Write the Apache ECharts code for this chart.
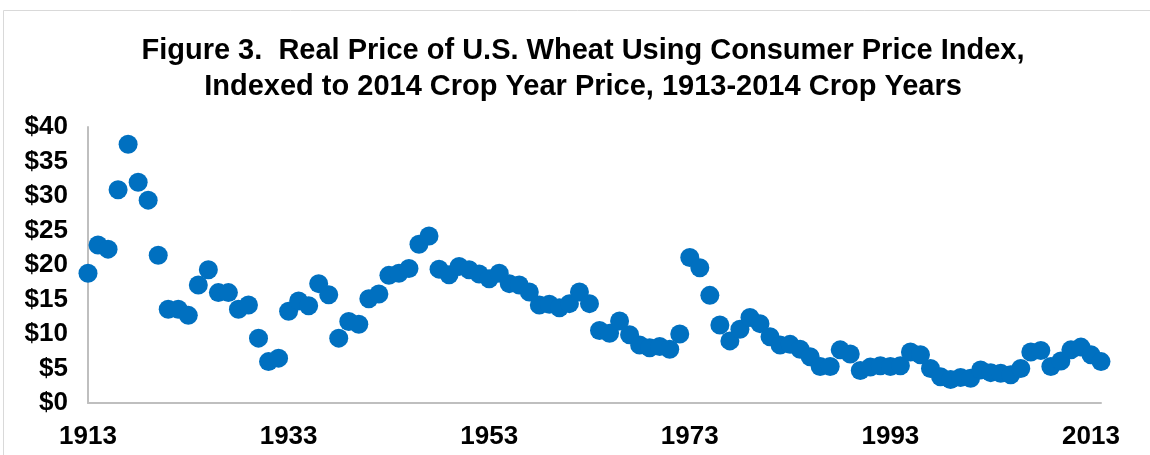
<!DOCTYPE html>
<html>
<head>
<meta charset="utf-8">
<title>Real Price of U.S. Wheat</title>
<script src="https://cdn.jsdelivr.net/npm/echarts@6/dist/echarts.min.js"></script>
<style>
	html, body { margin: 0; padding: 0; background: #fff; }
	#chart { width: 1150px; height: 455px; }
</style>
</head>
<body>
<div id="chart"></div>
<script>
	// crop years 1913 - 2014
	const years = [
		1913, 1914, 1915, 1916, 1917, 1918, 1919, 1920, 1921, 1922,
		1923, 1924, 1925, 1926, 1927, 1928, 1929, 1930, 1931, 1932,
		1933, 1934, 1935, 1936, 1937, 1938, 1939, 1940, 1941, 1942,
		1943, 1944, 1945, 1946, 1947, 1948, 1949, 1950, 1951, 1952,
		1953, 1954, 1955, 1956, 1957, 1958, 1959, 1960, 1961, 1962,
		1963, 1964, 1965, 1966, 1967, 1968, 1969, 1970, 1971, 1972,
		1973, 1974, 1975, 1976, 1977, 1978, 1979, 1980, 1981, 1982,
		1983, 1984, 1985, 1986, 1987, 1988, 1989, 1990, 1991, 1992,
		1993, 1994, 1995, 1996, 1997, 1998, 1999, 2000, 2001, 2002,
		2003, 2004, 2005, 2006, 2007, 2008, 2009, 2010, 2011, 2012,
		2013, 2014
	];

	// real price, $ per bushel (2014 dollars)
	const realPrice = [
		18.8, 22.9, 22.3, 30.9, 37.5, 32.0, 29.4, 21.4, 13.6, 13.6,
		12.7, 17.1, 19.3, 16.0, 16.0, 13.6, 14.2, 9.4, 6.0, 6.5,
		13.3, 14.8, 14.1, 17.3, 15.7, 9.4, 11.8, 11.4, 15.1, 15.8,
		18.5, 18.8, 19.5, 23.0, 24.2, 19.4, 18.6, 19.8, 19.3, 18.7,
		18.0, 18.8, 17.3, 17.1, 16.1, 14.2, 14.3, 13.8, 14.4, 16.1,
		14.4, 10.5, 10.1, 11.9, 9.9, 8.4, 8.0, 8.2, 7.8, 10.0,
		21.1, 19.6, 15.6, 11.3, 9.0, 10.7, 12.4, 11.5, 9.6, 8.4,
		8.5, 7.8, 6.7, 5.3, 5.3, 7.7, 7.1, 4.7, 5.2, 5.4,
		5.3, 5.4, 7.4, 7.0, 5.0, 3.8, 3.4, 3.7, 3.6, 4.8,
		4.4, 4.3, 4.1, 5.0, 7.4, 7.6, 5.3, 6.1, 7.7, 8.1,
		7.0, 6.0
	];

	const titleLines = [
		'Figure 3.  Real Price of U.S. Wheat Using Consumer Price Index,',
		'Indexed to 2014 Crop Year Price, 1913-2014 Crop Years'
	];

	const dotColor = '#0070C0';
	const axisColor = '#BFBFBF';
	const fontFamily = 'Liberation Sans, Arial, sans-serif';

	const myChart = echarts.init(document.getElementById('chart'), null, { renderer: 'canvas' });

	const option = {
		animation: false,
		backgroundColor: '#fff',
		title: {
			text: titleLines.join('\n'),
			left: 578,
			top: 28,
			textAlign: 'center',
			textStyle: {
				fontFamily: fontFamily,
				fontWeight: 'bold',
				fontSize: 29,
				lineHeight: 36,
				color: '#000'
			}
		},
		// outer border of the chart area (right / bottom are cut off in the picture)
		graphic: [{
			type: 'rect',
			silent: true,
			shape: { x: 3.5, y: 10.5, width: 1200, height: 500 },
			style: { fill: null, stroke: '#D9D9D9', lineWidth: 1 }
		}],
		grid: {
			left: 88,
			right: 49,
			top: 127,
			bottom: 52,
			containLabel: false
		},
		xAxis: {
			type: 'category',
			data: years,
			boundaryGap: false,
			axisLine: {
				lineStyle: { color: axisColor, width: 2 }
			},
			axisTick: { show: false },
			splitLine: { show: false },
			axisLabel: {
				interval: 19,
				margin: 21,
				fontFamily: fontFamily,
				fontWeight: 'bold',
				fontSize: 26,
				color: '#000'
			}
		},
		yAxis: {
			type: 'value',
			min: 0,
			max: 40,
			interval: 5,
			axisLine: {
				show: true,
				lineStyle: { color: axisColor, width: 2 }
			},
			axisTick: { show: false },
			splitLine: { show: false },
			axisLabel: {
				margin: 20,
				fontFamily: fontFamily,
				fontWeight: 'bold',
				fontSize: 26,
				color: '#000',
				formatter: function(val) {
					return '$' + val;
				}
			}
		},
		series: [{
			name: 'Real price',
			type: 'scatter',
			data: realPrice,
			symbol: 'circle',
			symbolSize: 19,
			itemStyle: {
				color: dotColor,
				opacity: 1
			}
		}]
	};

	myChart.setOption(option);
</script>
</body>
</html>
